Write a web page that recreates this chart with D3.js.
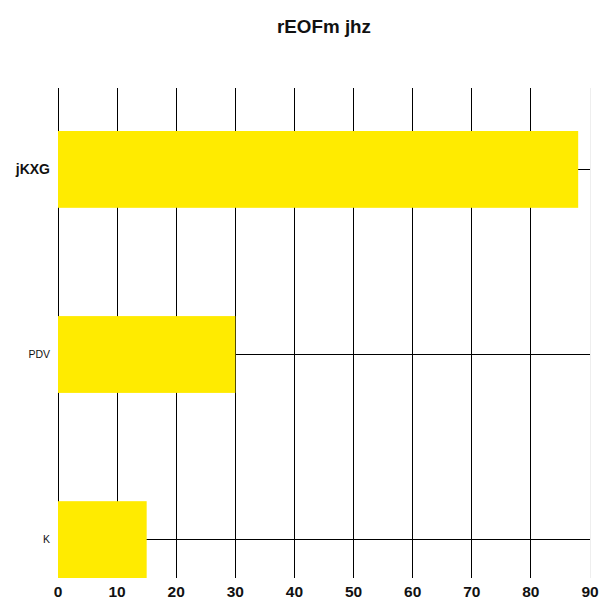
<!DOCTYPE html>
<html><head><meta charset="utf-8">
<script src="https://cdn.jsdelivr.net/npm/d3@7"></script>
<style>body{margin:0;background:#fff}</style>
</head><body>
<script>
const categories = ["jKXG", "PDV", "K"];
const values = [88, 30, 15];
const xTicks = [0, 10, 20, 30, 40, 50, 60, 70, 80, 90];
const title = "rEOFm jhz";

const W = 616, H = 616;
const svg = d3.select("body").append("svg").attr("width", W).attr("height", H);
const FONT = "'Liberation Sans', Arial, sans-serif";

const x = d3.scaleLinear().domain([0, 90]).range([58, 590]);
const y = d3.scaleBand().domain(categories).range([131, 578]).paddingInner(0.585).paddingOuter(0);
const gridTop = 88, gridBottom = 578;

// vertical gridlines
svg.append("g").selectAll("line").data(xTicks).join("line")
  .attr("x1", d => x(d)).attr("x2", d => x(d))
  .attr("y1", gridTop).attr("y2", gridBottom)
  .attr("stroke", d => d === 90 ? "#eeeeee" : "#000").attr("stroke-width", 1)
  .attr("shape-rendering", "crispEdges");

// horizontal lines at category centers
svg.append("g").selectAll("line").data(categories).join("line")
  .attr("x1", x(0)).attr("x2", x(90))
  .attr("y1", d => y(d) + y.bandwidth() / 2).attr("y2", d => y(d) + y.bandwidth() / 2)
  .attr("stroke", "#000").attr("stroke-width", 1).attr("shape-rendering", "crispEdges");

// bars
svg.append("g").selectAll("rect").data(values).join("rect")
  .attr("x", x(0)).attr("y", (d, i) => y(categories[i]))
  .attr("width", d => x(d) - x(0)).attr("height", y.bandwidth())
  .attr("fill", "#ffeb00");

// x tick labels
svg.append("g").selectAll("text").data(xTicks).join("text")
  .attr("x", d => x(d)).attr("y", 597)
  .attr("text-anchor", "middle")
  .attr("font-family", FONT).attr("font-weight", "bold").attr("font-size", 15.5)
  .attr("fill", "#111")
  .text(d => d);

// category labels
svg.append("g").selectAll("text").data(categories).join("text")
  .attr("x", 50).attr("y", d => y(d) + y.bandwidth() / 2)
  .attr("dy", "0.35em").attr("text-anchor", "end")
  .attr("font-family", FONT)
  .attr("font-weight", (d, i) => i === 0 ? "bold" : "normal")
  .attr("font-size", (d, i) => i === 0 ? 14 : 10.5)
  .attr("fill", "#111")
  .text(d => d);

// title
svg.append("text").attr("x", 324).attr("y", 33)
  .attr("text-anchor", "middle")
  .attr("font-family", FONT).attr("font-weight", "bold").attr("font-size", 18)
  .attr("textLength", 94).attr("lengthAdjust", "spacingAndGlyphs")
  .attr("fill", "#111")
  .text(title);
</script>
</body></html>
